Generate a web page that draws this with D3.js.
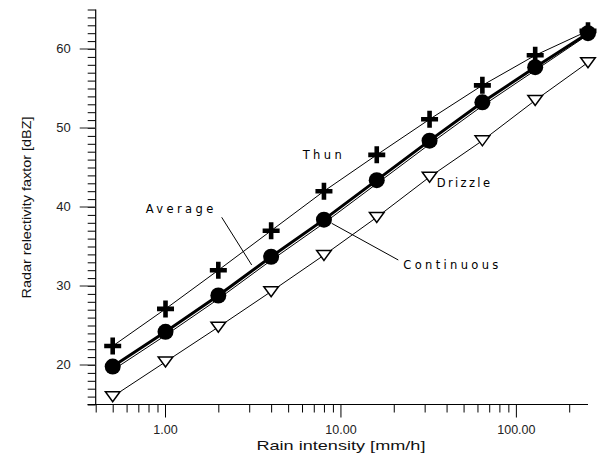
<!DOCTYPE html>
<html><head><meta charset="utf-8">
<script src="https://cdn.jsdelivr.net/npm/d3@7"></script>
<style>body{margin:0;background:#fff}svg{display:block}</style>
</head><body>
<svg id="c" width="601" height="455"></svg>
<script>
// ---- data ----
const rainIntensity = [0.5, 1, 2, 4, 8, 16, 32, 64, 128, 256];
const thun       = [22.4, 27.1, 32.0, 37.0, 42.0, 46.6, 51.1, 55.4, 59.2, 62.3];
const average    = [19.8, 24.2, 28.8, 33.7, 38.4, 43.4, 48.4, 53.25, 57.7, 62.0];
const continuous = [19.35, 23.75, 28.35, 33.25, 37.95, 42.95, 47.95, 52.8, 57.3, 61.8];
const drizzle    = [16.0, 20.4, 24.8, 29.3, 33.9, 38.7, 43.8, 48.4, 53.5, 58.3];
const xMajorTicks = [1, 10, 100];
const xMinorTicks = [0.4,0.5,0.6,0.7,0.8,0.9,2,3,4,5,6,7,8,9,20,30,40,50,60,70,80,90,200];
const yMajorTicks = [20, 30, 40, 50, 60];
const yMinorTicks = d3.range(15, 66);
const xTitle = "Rain intensity [mm/h]";
const yTitle = "Radar relectivity faxtor [dBZ]";

const svg = d3.select("#c");
const x = d3.scaleLog().domain([0.4, 256]).range([95.7, 588]);
const y = d3.scaleLinear().domain([15, 65]).range([404.5, 9.5]);

// ---- axes ----
const gy = svg.append("g").attr("transform", "translate(95.7,0)");
gy.call(d3.axisLeft(y).tickValues(yMinorTicks).tickSize(8).tickFormat(""));
gy.call(g => g.select(".domain").remove());
gy.append("line").attr("x1",0).attr("x2",0).attr("y1",y(65)).attr("y2",y(15)+0.5).attr("stroke","#000").attr("stroke-width",1.2);
yMajorTicks.forEach(v => {
  gy.append("line").attr("x1",-16).attr("x2",0).attr("y1",y(v)).attr("y2",y(v)).attr("stroke","#444").attr("stroke-width",1.2);
  gy.append("text").attr("x",-25).attr("y",y(v)).attr("dy","0.32em").attr("text-anchor","end")
    .attr("font-family","Liberation Sans, Arial, sans-serif").attr("font-size",13).attr("fill","#222").text(v);
});

const gx = svg.append("g").attr("transform", "translate(0,404.5)");
gx.call(d3.axisBottom(x).tickValues(xMinorTicks).tickSize(8).tickFormat(""));
gx.call(g => g.select(".domain").remove());
gx.append("line").attr("x1",87.5).attr("x2",588).attr("y1",0).attr("y2",0).attr("stroke","#000").attr("stroke-width",1.2);
xMajorTicks.forEach(v => {
  gx.append("line").attr("x1",x(v)).attr("x2",x(v)).attr("y1",0).attr("y2",13).attr("stroke","#000");
  gx.append("text").attr("x",x(v)).attr("y",29.5).attr("text-anchor","middle")
    .attr("font-family","Liberation Sans, Arial, sans-serif").attr("font-size",12.5).attr("fill","#222").text(d3.format(".2f")(v));
});
svg.selectAll(".tick line").attr("stroke","#000");

svg.append("text").attr("x", x(10)).attr("y", 449.5).attr("text-anchor","middle")
  .attr("font-family","Liberation Sans, Arial, sans-serif").attr("font-size",13.5).attr("fill","#111")
  .attr("textLength",169).attr("lengthAdjust","spacingAndGlyphs").text(xTitle);
svg.append("text").attr("transform","translate(31,207.5) rotate(-90)").attr("text-anchor","middle")
  .attr("font-family","Liberation Sans, Arial, sans-serif").attr("font-size",13.5).attr("fill","#111")
  .attr("textLength",182).attr("lengthAdjust","spacingAndGlyphs").text(yTitle);

// ---- lines ----
const line = d3.line().x((d,i) => x(rainIntensity[i])).y(d => y(d));
[[thun,1],[continuous,1],[drizzle,1],[average,3]].forEach(([s,w]) => {
  svg.append("path").attr("d", line(s)).attr("fill","none").attr("stroke","#000").attr("stroke-width",w);
});

// ---- markers ----
svg.append("g").selectAll("circle").data(average).join("circle")
  .attr("cx",(d,i)=>x(rainIntensity[i])).attr("cy",d=>y(d)).attr("r",8).attr("fill","#000");
svg.append("g").selectAll("path").data(thun).join("path")
  .attr("transform",(d,i)=>`translate(${x(rainIntensity[i])},${y(d)})`)
  .attr("d", "M-8.5,-2.3H-2.3V-8.5H2.3V-2.3H8.5V2.3H2.3V8.5H-2.3V2.3H-8.5Z").attr("fill","#000");
svg.append("g").selectAll("path").data(drizzle).join("path")
  .attr("transform",(d,i)=>`translate(${x(rainIntensity[i])},${y(d)})`)
  .attr("d","M-7.3,-4.8H7.3L0,5.2Z").attr("fill","#fff").attr("stroke","#000").attr("stroke-width",1.5);

// ---- labels ----
const lab = (t,x0,yb,w) => svg.append("text").attr("x",x0).attr("y",yb)
  .attr("font-family","DejaVu Sans, sans-serif").attr("font-size",11.5).attr("fill","#000")
  .attr("textLength",w).attr("lengthAdjust","spacing").text(t);
lab("Thun",302.7,159.2,39);
lab("Average",145.7,213.2,67.6);
lab("Drizzle",436.7,186.9,53.3);
lab("Continuous",403.3,269.2,95);
svg.append("line").attr("x1",221.7).attr("y1",217.3).attr("x2",251.7).attr("y2",265).attr("stroke","#000");
svg.append("line").attr("x1",331.7).attr("y1",223.3).attr("x2",398.3).attr("y2",260).attr("stroke","#000");
</script>
</body></html>
